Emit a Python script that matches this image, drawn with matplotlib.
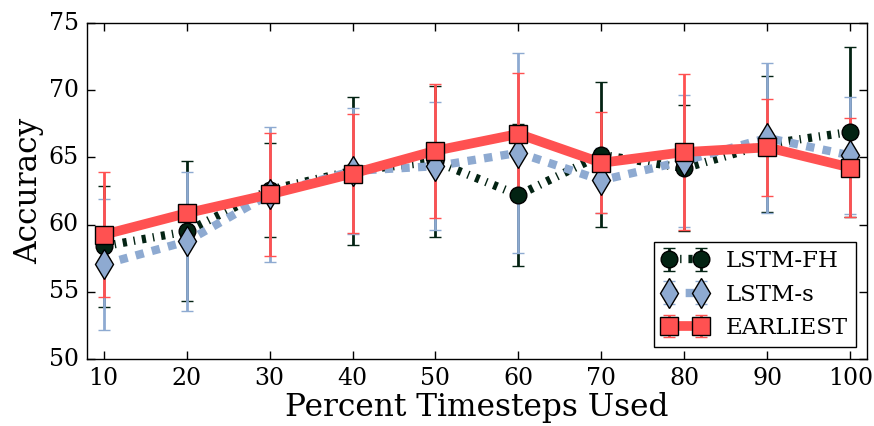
import matplotlib
matplotlib.use("Agg")
import matplotlib.pyplot as plt

# percent of timesteps used
pct = [10, 20, 30, 40, 50, 60, 70, 80, 90, 100]

# LSTM-FH
fh_mean = [58.4, 59.5, 62.6, 64.0, 64.7, 62.2, 65.2, 64.2, 66.0, 66.9]
fh_err = [4.5, 5.2, 3.5, 5.5, 5.6, 5.3, 5.4, 4.7, 5.05, 6.3]

# LSTM-s
s_mean = [57.05, 58.75, 62.25, 64.0, 64.35, 65.35, 63.3, 64.75, 66.45, 65.15]
s_err = [4.85, 5.15, 5.05, 4.7, 4.75, 7.45, 2.4, 4.9, 5.55, 4.35]

# EARLIEST
e_mean = [59.25, 60.85, 62.25, 63.8, 65.5, 66.75, 64.6, 65.4, 65.75, 64.25]
e_err = [4.65, 0.5, 4.6, 4.45, 5.0, 4.5, 3.75, 5.8, 3.6, 3.7]

plt.style.use("classic")
plt.rcParams["font.family"] = "DejaVu Serif"

fig = plt.figure(figsize=(8.74, 4.26), dpi=100, facecolor="white")
ax = fig.add_axes([0.0995, 0.157, 0.8925, 0.789])

dark = "#032313"
blue = "#8eaad1"
red = "#ff5151"

ax.errorbar(pct, fh_mean, yerr=fh_err, color=dark, ls="-.", lw=6,
            marker="o", ms=12, mfc=dark, mec="black", mew=1,
            elinewidth=2, capsize=4, capthick=2, label="LSTM-FH")
ax.errorbar(pct, s_mean, yerr=s_err, color=blue, ls="--", lw=6,
            marker="d", ms=15, mfc=blue, mec="black", mew=1,
            elinewidth=2, capsize=4, capthick=2, label="LSTM-s")
ax.errorbar(pct, e_mean, yerr=e_err, color=red, ls="-", lw=7,
            marker="s", ms=13, mfc=red, mec="black", mew=1,
            elinewidth=2, capsize=4, capthick=2, label="EARLIEST")

ax.set_xlim(8, 102)
ax.set_ylim(50, 75)
ax.set_xticks(pct)
ax.set_yticks([50, 55, 60, 65, 70, 75])
ax.tick_params(labelsize=17, direction="in", length=6, width=1, pad=6)
ax.set_xlabel("Percent Timesteps Used", fontsize=22.5, labelpad=1)
ax.set_ylabel("Accuracy", fontsize=22.5, labelpad=3)

ax.legend(loc="lower right", fontsize=16.5, numpoints=2, frameon=True,
          borderpad=0.35, labelspacing=0.5, handlelength=2.0,
          handletextpad=0.8, borderaxespad=0,
          bbox_to_anchor=(0.986, 0.036))

fig.savefig("out.png", dpi=100, facecolor="white")
